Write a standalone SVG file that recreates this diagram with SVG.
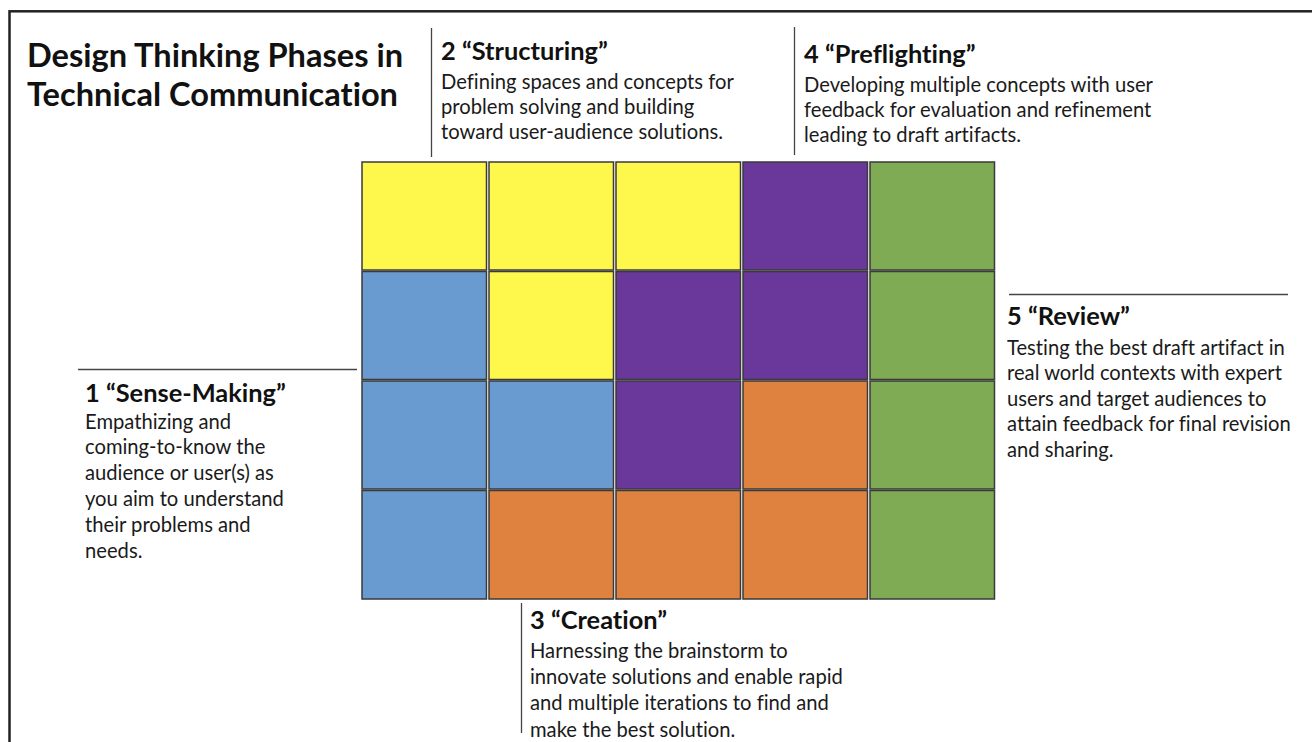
<svg xmlns="http://www.w3.org/2000/svg" width="1312" height="742" viewBox="0 0 1312 742">
  <style>
    text { font-family: Lato, "Open Sans", sans-serif; font-variant-ligatures: none; }
    .title { font-weight: 700; font-size: 32.6px; fill: #111; }
    .head { font-weight: 700; font-size: 25.4px; fill: #111; }
    .body { font-weight: 400; font-size: 20.2px; fill: #1a1a1a; }
    .cell { stroke: #3a3a3a; stroke-width: 1.5; }
    .y { fill: #fdf84b; }
    .b { fill: #6a9bd0; }
    .p { fill: #6a389b; }
    .o { fill: #e0823f; }
    .g { fill: #7fab55; }
    .lead { stroke: #444; stroke-width: 1.3; fill: none; }
  </style>

  <rect x="0" y="0" width="1312" height="742" fill="#ffffff"/>
  <!-- outer frame, running off the right and bottom edges -->
  <rect x="9.5" y="11.3" width="1400" height="800" fill="none" stroke="#222" stroke-width="2.5"/>

  <g id="title">
    <text class="title" x="27" y="67">Design Thinking Phases in</text>
    <text class="title" x="27" y="106">Technical Communication</text>
  </g>

  <!-- 5 x 4 grid of phase tiles -->
  <g id="grid">
    <g id="row1">
      <rect class="cell y" x="362" y="162" width="124.5" height="108"/>
      <rect class="cell y" x="489" y="162" width="124.5" height="108"/>
      <rect class="cell y" x="616" y="162" width="124.5" height="108"/>
      <rect class="cell p" x="743" y="162" width="124.5" height="108"/>
      <rect class="cell g" x="870" y="162" width="124.5" height="108"/>
    </g>
    <g id="row2">
      <rect class="cell b" x="362" y="271.5" width="124.5" height="108"/>
      <rect class="cell y" x="489" y="271.5" width="124.5" height="108"/>
      <rect class="cell p" x="616" y="271.5" width="124.5" height="108"/>
      <rect class="cell p" x="743" y="271.5" width="124.5" height="108"/>
      <rect class="cell g" x="870" y="271.5" width="124.5" height="108"/>
    </g>
    <g id="row3">
      <rect class="cell b" x="362" y="381" width="124.5" height="108"/>
      <rect class="cell b" x="489" y="381" width="124.5" height="108"/>
      <rect class="cell p" x="616" y="381" width="124.5" height="108"/>
      <rect class="cell o" x="743" y="381" width="124.5" height="108"/>
      <rect class="cell g" x="870" y="381" width="124.5" height="108"/>
    </g>
    <g id="row4">
      <rect class="cell b" x="362" y="490.5" width="124.5" height="108.5"/>
      <rect class="cell o" x="489" y="490.5" width="124.5" height="108.5"/>
      <rect class="cell o" x="616" y="490.5" width="124.5" height="108.5"/>
      <rect class="cell o" x="743" y="490.5" width="124.5" height="108.5"/>
      <rect class="cell g" x="870" y="490.5" width="124.5" height="108.5"/>
    </g>
  </g>

  <!-- leader lines beside each phase label -->
  <g id="connectors">
    <line class="lead" x1="431.5" y1="28" x2="431.5" y2="157"/>
    <line class="lead" x1="794.5" y1="27" x2="794.5" y2="155"/>
    <line class="lead" x1="1009" y1="294.5" x2="1288" y2="294.5"/>
    <line class="lead" x1="78" y1="369.5" x2="357" y2="369.5"/>
    <line class="lead" x1="521.5" y1="603" x2="521.5" y2="733"/>
  </g>

  <g id="phase1">
    <text class="head" x="85" y="401.5">1 “Sense-Making”</text>
    <text class="body" x="85" y="428.5">Empathizing and</text>
    <text class="body" x="85" y="454">coming-to-know the</text>
    <text class="body" x="85" y="480">audience or user(s) as</text>
    <text class="body" x="85" y="505.5">you aim to understand</text>
    <text class="body" x="85" y="531.5">their problems and</text>
    <text class="body" x="85" y="557.5">needs.</text>
  </g>

  <g id="phase2">
    <text class="head" x="441" y="59.5">2 “Structuring”</text>
    <text class="body" x="441" y="89">Defining spaces and concepts for</text>
    <text class="body" x="441" y="114">problem solving and building</text>
    <text class="body" x="441" y="139">toward user-audience solutions.</text>
  </g>

  <g id="phase3">
    <text class="head" x="530" y="629">3 “Creation”</text>
    <text class="body" x="530" y="658">Harnessing the brainstorm to</text>
    <text class="body" x="530" y="684">innovate solutions and enable rapid</text>
    <text class="body" x="530" y="710">and multiple iterations to find and</text>
    <text class="body" x="530" y="736.5">make the best solution.</text>
  </g>

  <g id="phase4">
    <text class="head" x="804" y="62.5">4 “Preflighting”</text>
    <text class="body" x="804" y="92">Developing multiple concepts with user</text>
    <text class="body" x="804" y="117">feedback for evaluation and refinement</text>
    <text class="body" x="804" y="142">leading to draft artifacts.</text>
  </g>

  <g id="phase5">
    <text class="head" x="1007" y="324.5">5 “Review”</text>
    <text class="body" x="1007" y="354.5">Testing the best draft artifact in</text>
    <text class="body" x="1007" y="380">real world contexts with expert</text>
    <text class="body" x="1007" y="405.5">users and target audiences to</text>
    <text class="body" x="1007" y="431">attain feedback for final revision</text>
    <text class="body" x="1007" y="456.5">and sharing.</text>
  </g>
</svg>
